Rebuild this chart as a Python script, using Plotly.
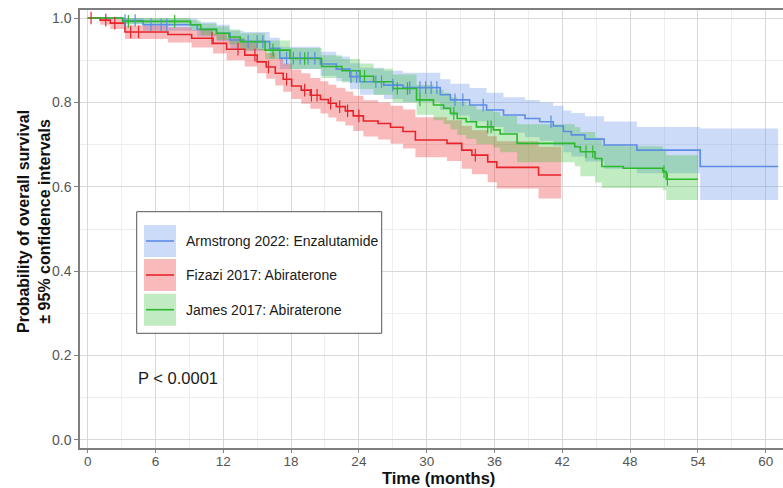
import numpy as np
import plotly.graph_objects as go

# ---------------- data ----------------
# Armstrong 2022: Enzalutamide (blue)
t_blue = [0, 3.1, 4.9, 9.7, 11.4, 12.6, 13.8, 16.1, 17.0, 20.6, 22.0, 23.2, 24.1, 26.2, 27.9,
          31.2, 32.1, 33.8, 35.3, 36.8, 38.7, 40.0, 41.2, 42.1, 42.8, 44.0, 45.7, 48.6, 54.2, 61.1]
s_blue = [1.0, 0.994, 0.984, 0.973, 0.964, 0.948, 0.944, 0.928, 0.905, 0.891, 0.879, 0.861, 0.849, 0.841, 0.835,
          0.818, 0.806, 0.794, 0.782, 0.770, 0.762, 0.754, 0.744, 0.731, 0.723, 0.713, 0.699, 0.687, 0.648, 0.648]
lo_blue = [1.0, 0.985, 0.970, 0.956, 0.945, 0.927, 0.922, 0.904, 0.879, 0.863, 0.850, 0.831, 0.818, 0.808, 0.801,
           0.782, 0.769, 0.755, 0.742, 0.728, 0.718, 0.709, 0.697, 0.682, 0.672, 0.660, 0.643, 0.632, 0.569, 0.569]
hi_blue = [1.0, 1.0, 0.998, 0.990, 0.984, 0.970, 0.967, 0.953, 0.932, 0.920, 0.909, 0.893, 0.882, 0.875, 0.870,
           0.855, 0.844, 0.834, 0.823, 0.812, 0.806, 0.800, 0.792, 0.781, 0.775, 0.767, 0.755, 0.742, 0.738, 0.738]
cens_blue = [3.3, 4.2, 5.6, 6.5, 7.0, 14.2, 15.0, 15.5, 17.6, 18.2, 18.8, 19.5, 20.1, 23.3, 23.8,
             25.5, 26.0, 27.0, 28.5, 29.4, 29.9, 30.4, 30.9, 32.5, 33.2, 35.0, 41.0]

# Fizazi 2017: Abiraterone (red)
t_red = [0, 1.1, 2.0, 3.3, 7.1, 9.2, 11.1, 12.3, 13.9, 15.0, 15.8, 16.6, 17.3, 18.05, 18.9, 19.7, 20.6,
         21.3, 22.0, 22.8, 23.5, 24.4, 25.7, 26.8, 27.9, 29.0, 31.8, 33.1, 34.0, 35.4, 36.2, 39.9, 41.9]
s_red = [1.0, 0.995, 0.988, 0.967, 0.961, 0.952, 0.940, 0.926, 0.912, 0.896, 0.884, 0.869, 0.855, 0.839, 0.829,
         0.817, 0.807, 0.798, 0.790, 0.780, 0.768, 0.756, 0.750, 0.741, 0.731, 0.711, 0.703, 0.687, 0.675,
         0.659, 0.646, 0.628, 0.628]
lo_red = [1.0, 0.984, 0.974, 0.950, 0.942, 0.930, 0.916, 0.900, 0.885, 0.869, 0.856, 0.840, 0.825, 0.808, 0.797,
          0.785, 0.774, 0.764, 0.755, 0.745, 0.732, 0.719, 0.712, 0.702, 0.691, 0.670, 0.661, 0.643, 0.630,
          0.611, 0.596, 0.572, 0.572]
hi_red = [1.0, 1.0, 0.998, 0.982, 0.978, 0.972, 0.963, 0.952, 0.941, 0.927, 0.917, 0.904, 0.892, 0.878, 0.869,
          0.858, 0.850, 0.842, 0.835, 0.826, 0.816, 0.805, 0.800, 0.792, 0.783, 0.765, 0.758, 0.744, 0.734,
          0.720, 0.708, 0.695, 0.695]
cens_red = [0.3, 1.6, 2.4, 3.8, 4.5, 11.0, 13.3, 14.8, 16.0, 17.6, 19.2, 19.8, 20.3, 21.5, 22.3, 23.0, 24.0, 34.3]

# James 2017: Abiraterone (green)
t_green = [0, 3.1, 9.1, 10.0, 11.4, 12.5, 13.5, 15.7, 17.9, 20.7, 22.5, 24.1, 25.3, 27.0, 29.1, 30.6, 31.5,
           32.1, 32.7, 33.5, 34.4, 35.9, 36.5, 38.0, 43.1, 43.6, 44.9, 45.5, 47.4, 50.9, 51.2, 54.0]
s_green = [1.0, 0.992, 0.984, 0.973, 0.964, 0.955, 0.944, 0.924, 0.904, 0.885, 0.875, 0.862, 0.849, 0.833,
           0.806, 0.794, 0.786, 0.774, 0.762, 0.754, 0.742, 0.735, 0.725, 0.703, 0.695, 0.683, 0.667, 0.648,
           0.644, 0.636, 0.618, 0.618]
lo_green = [1.0, 0.985, 0.972, 0.959, 0.948, 0.937, 0.924, 0.902, 0.879, 0.858, 0.847, 0.832, 0.818, 0.800,
            0.771, 0.758, 0.749, 0.736, 0.723, 0.714, 0.701, 0.693, 0.682, 0.658, 0.649, 0.625, 0.610, 0.597,
            0.597, 0.592, 0.569, 0.569]
hi_green = [1.0, 1.0, 0.995, 0.987, 0.980, 0.973, 0.964, 0.947, 0.929, 0.912, 0.903, 0.892, 0.880, 0.866,
            0.841, 0.830, 0.823, 0.812, 0.801, 0.794, 0.783, 0.777, 0.768, 0.748, 0.741, 0.730, 0.716, 0.699,
            0.696, 0.689, 0.675, 0.675]
cens_green = [3.6, 7.7, 16.4, 19.2, 24.5, 27.4, 28.3, 29.4, 32.4, 35.4, 35.7, 44.1, 44.7, 51.0, 51.3]

names = ["Armstrong 2022: Enzalutamide", "Fizazi 2017: Abiraterone", "James 2017: Abiraterone"]
x_ticks = [0, 6, 12, 18, 24, 30, 36, 42, 48, 54, 60]
y_ticks = [0.0, 0.2, 0.4, 0.6, 0.8, 1.0]
p_text = "P < 0.0001"
x_title = "<b>Time (months)</b>"
y_title = "<b>Probability of overall survival<br>± 95% confidence intervals</b>"

# ---------------- styling ----------------
FONT = "Liberation Sans, Arial"
line_cols = ["#5B8DE3", "#E8242B", "#2DB92D"]
fill_cols = ["rgba(100,145,235,0.33)", "rgba(235,40,45,0.32)", "rgba(50,190,50,0.30)"]

series = [
    (t_blue, s_blue, lo_blue, hi_blue, cens_blue),
    (t_red, s_red, lo_red, hi_red, cens_red),
    (t_green, s_green, lo_green, hi_green, cens_green),
]

fig = go.Figure()

# confidence ribbons
for i, (t, s, lo, hi, c) in enumerate(series):
    fig.add_trace(go.Scatter(x=t, y=lo, mode="lines", line=dict(width=0, shape="hv"),
                             showlegend=False, hoverinfo="skip"))
    fig.add_trace(go.Scatter(x=t, y=hi, mode="lines", line=dict(width=0, shape="hv"),
                             fill="tonexty", fillcolor=fill_cols[i],
                             showlegend=False, hoverinfo="skip"))

# survival step lines
for i, (t, s, lo, hi, c) in enumerate(series):
    fig.add_trace(go.Scatter(x=t, y=s, mode="lines", name=names[i],
                             line=dict(color=line_cols[i], width=1.6, shape="hv"),
                             showlegend=False))

# censoring marks
for i, (t, s, lo, hi, c) in enumerate(series):
    ta = np.array(t)
    sa = np.array(s)
    idx = np.searchsorted(ta, np.array(c), side="right") - 1
    fig.add_trace(go.Scatter(x=c, y=sa[idx], mode="markers",
                             marker=dict(symbol="line-ns", size=9,
                                         line=dict(color=line_cols[i], width=1.2)),
                             showlegend=False, hoverinfo="skip"))

# p-value annotation
fig.add_annotation(x=4.3, y=0.147, xref="x", yref="y", text=p_text, showarrow=False,
                   xanchor="left", yanchor="middle",
                   font=dict(size=16.5, color="#1a1a1a", family=FONT))


def px_x(p):
    return (p - 80) / 703.0


def px_y(p):
    return (448 - p) / 438.0


# axis titles placed as annotations
fig.add_annotation(x=px_x(438), y=px_y(478), xref="paper", yref="paper", text=x_title,
                   showarrow=False, xanchor="center", yanchor="middle",
                   font=dict(size=16.5, color="#111111", family=FONT))
fig.add_annotation(x=px_x(34), y=px_y(222), xref="paper", yref="paper", text=y_title,
                   showarrow=False, xanchor="center", yanchor="middle", textangle=-90,
                   font=dict(size=16, color="#111111", family=FONT))

# manual legend box
shapes = []
shapes.append(dict(type="rect", xref="paper", yref="paper",
                   x0=px_x(136.7), x1=px_x(381.7), y0=px_y(333.3), y1=px_y(211.7),
                   line=dict(color="#555555", width=1), fillcolor="white", layer="above"))
row_top = [225, 259, 293.7]
for i in range(3):
    y0 = row_top[i]
    y1 = y0 + 32
    yc = (y0 + y1) / 2
    shapes.append(dict(type="rect", xref="paper", yref="paper",
                       x0=px_x(144), x1=px_x(176), y0=px_y(y1), y1=px_y(y0),
                       line=dict(width=0), fillcolor=fill_cols[i], layer="above"))
    shapes.append(dict(type="line", xref="paper", yref="paper",
                       x0=px_x(146), x1=px_x(174), y0=px_y(yc), y1=px_y(yc),
                       line=dict(color=line_cols[i], width=1.6), layer="above"))
    fig.add_annotation(x=px_x(183.5), y=px_y(yc), xref="paper", yref="paper", text=names[i],
                       showarrow=False, xanchor="left", yanchor="middle",
                       font=dict(size=14, color="#1a1a1a", family=FONT))

fig.update_layout(
    width=783, height=488,
    margin=dict(l=80, r=0, t=10, b=40),
    plot_bgcolor="white", paper_bgcolor="white",
    font=dict(family=FONT, color="#1a1a1a"),
    shapes=shapes,
    showlegend=False,
)

fig.update_xaxes(
    range=[-0.68, 61.53], tickvals=x_ticks, ticktext=[str(v) for v in x_ticks],
    showgrid=True, gridcolor="#d9d9d9", gridwidth=1,
    minor=dict(dtick=3, tick0=0, showgrid=True, gridcolor="#eeeeee", gridwidth=0.8),
    showline=True, linecolor="#7f7f7f", linewidth=1.5, mirror=True,
    ticks="outside", ticklen=3, tickcolor="#7f7f7f", tickwidth=1,
    ticklabelstandoff=-3,
    tickfont=dict(size=13.5, color="#555555"),
    zeroline=False,
)
fig.update_yaxes(
    range=[-0.019, 1.019], tickvals=y_ticks, ticktext=["%.1f" % v for v in y_ticks],
    showgrid=True, gridcolor="#d9d9d9", gridwidth=1,
    minor=dict(dtick=0.1, tick0=0, showgrid=True, gridcolor="#eeeeee", gridwidth=0.8),
    showline=True, linecolor="#7f7f7f", linewidth=1.5, mirror=False,
    ticks="outside", ticklen=4, tickcolor="#7f7f7f", tickwidth=1,
    tickfont=dict(size=14, color="#555555"),
    zeroline=False,
)

fig.write_html("out.html")
